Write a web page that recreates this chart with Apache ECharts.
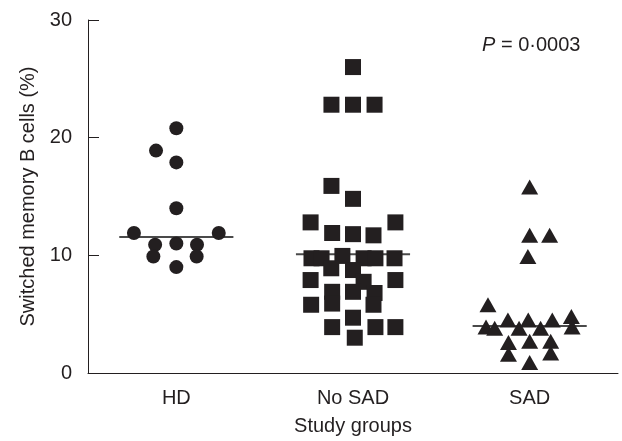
<!DOCTYPE html>
<html>
<head>
<meta charset="utf-8">
<script src="https://cdn.jsdelivr.net/npm/echarts@6/dist/echarts.min.js"></script>
<style>html,body{margin:0;padding:0;background:#fff;}#c{width:622px;height:441px;}</style>
</head>
<body>
<div id="c"></div>
<script>
// ---- data ----
var groups = ['HD', 'No SAD', 'SAD'];
var yTicks = [0, 10, 20, 30];

var hdValues  = [20.8, 18.9, 17.9, 14.0, 11.9, 11.9, 10.9, 11.0, 10.9, 9.9, 9.9, 9.0];
var hdJitter  = [0, -0.115, 0, 0, -0.24, 0.24, -0.12, 0, 0.117, -0.13, 0.115, 0];

var noSadValues = [26.0, 22.8, 22.8, 22.8, 15.9, 14.8, 12.8, 12.8, 11.9, 11.8, 11.7,
                   9.75, 9.75, 9.95, 9.75, 9.75, 9.75, 8.9, 8.75, 7.9, 7.9, 7.75,
                   6.9, 6.9, 6.8, 5.8, 5.9, 5.8, 4.7, 3.9, 3.9, 3.9, 3.0];
var noSadJitter = [0, -0.122, 0, 0.122, -0.122, 0, -0.24, 0.24, -0.118, 0, 0.116,
                   -0.235, -0.178, -0.06, 0.06, 0.127, 0.235, -0.123, 0, -0.24, 0.24, 0.06,
                   -0.118, 0, 0.122, -0.237, -0.118, 0.116, 0, -0.118, 0.127, 0.24, 0.01];

var sadValues = [15.8, 11.7, 11.7, 9.9, 5.8, 3.9, 3.8, 4.5, 3.8, 4.5, 3.8, 4.5, 4.8, 3.9,
                 2.6, 2.7, 2.7, 1.6, 1.7, 0.9];
var sadJitter = [0, 0, 0.113, -0.01, -0.236, -0.247, -0.198, -0.123, -0.06, -0.008, 0.062, 0.128, 0.236, 0.24,
                 -0.12, 0, 0.119, -0.12, 0.119, 0];

var medians = [11.55, 10.1, 4.0];
var pText = '0·0003';

// ---- build ----
function pts(idx, vals, jit) {
  return vals.map(function (v, i) { return [idx + jit[i], v]; });
}
var font = "'Liberation Sans', Arial, Helvetica, sans-serif";
var ink = '#231f20';
var fs = 20;

var medianSeries = medians.map(function (m, i) {
  return {
    type: 'line', xAxisIndex: 1, yAxisIndex: 0, silent: true, symbol: 'none', z: 1,
    lineStyle: { color: '#4a4a4a', width: 2 },
    data: [[i - 0.323, m], [i + 0.323, m]]
  };
});

var option = {
  animation: false,
  backgroundColor: '#fff',
  grid: { left: 88, right: 4, top: 20, bottom: 68 },
  xAxis: [{
    type: 'category', data: groups, boundaryGap: true,
    axisLine: { onZero: false, lineStyle: { color: ink, width: 1 } },
    axisTick: { inside: true, alignWithLabel: true, length: 9, lineStyle: { color: ink } },
    axisLabel: { color: ink, fontSize: fs, fontFamily: font, margin: 15 },
    splitLine: { show: false },
    name: 'Study groups', nameLocation: 'middle', nameGap: 43,
    nameTextStyle: { color: ink, fontSize: fs, fontFamily: font }
  }, {
    type: 'value', min: -0.5, max: 2.5, show: false
  }],
  yAxis: {
    type: 'value', min: yTicks[0], max: yTicks[yTicks.length - 1], interval: 10,
    axisLine: { show: true, onZero: false, lineStyle: { color: ink, width: 1 } },
    axisTick: { show: true, inside: true, length: 11, lineStyle: { color: ink } },
    axisLabel: { color: ink, fontSize: fs, fontFamily: font, margin: 16 },
    splitLine: { show: false },
    name: 'Switched memory B cells (%)', nameLocation: 'middle', nameGap: 48, nameRotate: 90,
    nameTextStyle: { color: ink, fontSize: fs, fontFamily: font }
  },
  series: medianSeries.concat([
    { type: 'scatter', xAxisIndex: 1, symbol: 'circle', symbolSize: 14, z: 3,
      itemStyle: { color: ink, opacity: 1 }, data: pts(0, hdValues, hdJitter) },
    { type: 'scatter', xAxisIndex: 1, symbol: 'rect', symbolSize: 16, z: 3,
      itemStyle: { color: ink, opacity: 1 }, data: pts(1, noSadValues, noSadJitter) },
    { type: 'scatter', xAxisIndex: 1, symbol: 'triangle', symbolSize: [17, 15], z: 3,
      itemStyle: { color: ink, opacity: 1 }, data: pts(2, sadValues, sadJitter) }
  ]),
  graphic: [{
    type: 'text', left: 482, top: 35,
    style: {
      text: '{i|P} = ' + pText,
      font: fs + 'px ' + font, fill: ink,
      rich: { i: { fontStyle: 'italic', fontSize: fs, fontFamily: font, fill: ink } }
    }
  }]
};
var chart = echarts.init(document.getElementById('c'), null, { renderer: 'canvas' });
chart.setOption(option);
</script>
</body>
</html>
